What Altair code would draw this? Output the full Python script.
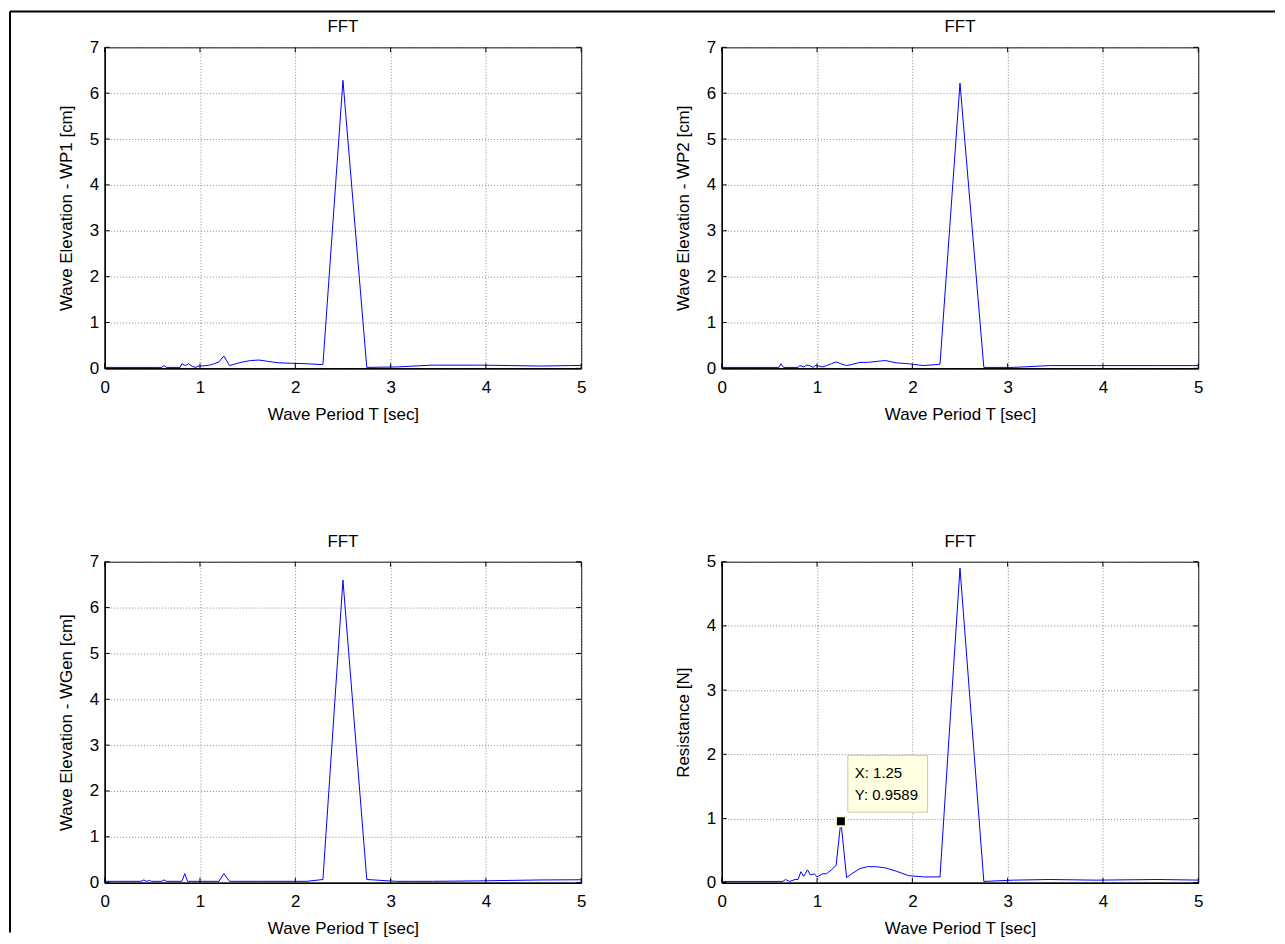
import altair as alt
import pandas as pd

# ---------------- data ----------------
PANEL_TITLE = "FFT"
X_TITLE = "Wave Period T [sec]"
X_TICKS = [0, 1, 2, 3, 4, 5]

# WP1
T1 = [0.0, 0.55, 0.6, 0.62, 0.65, 0.79, 0.81, 0.85, 0.88, 0.92, 0.96, 0.98, 1.02, 1.06,
      1.1, 1.15, 1.2, 1.25, 1.31, 1.375, 1.45, 1.53, 1.62, 1.72, 1.83, 1.96, 2.12, 2.29,
      2.5, 2.75, 3.06, 3.44, 3.93, 4.58, 5.5]
A1 = [0.02, 0.02, 0.02, 0.06, 0.02, 0.02, 0.1, 0.06, 0.1, 0.04, 0.02, 0.05, 0.05, 0.06,
      0.07, 0.1, 0.14, 0.27, 0.06, 0.1, 0.14, 0.17, 0.18, 0.15, 0.12, 0.11, 0.1, 0.08,
      6.28, 0.02, 0.03, 0.07, 0.07, 0.05, 0.08]

# WP2
T2 = [0.0, 0.6, 0.62, 0.65, 0.8, 0.82, 0.86, 0.89, 0.92, 0.96, 0.98, 1.02, 1.06, 1.1,
      1.15, 1.2, 1.25, 1.31, 1.375, 1.45, 1.53, 1.62, 1.72, 1.83, 1.96, 2.12, 2.29, 2.5,
      2.75, 3.06, 3.44, 3.93, 4.58, 5.5]
A2 = [0.02, 0.02, 0.1, 0.02, 0.02, 0.06, 0.03, 0.07, 0.06, 0.02, 0.06, 0.05, 0.03, 0.06,
      0.1, 0.14, 0.1, 0.06, 0.09, 0.13, 0.13, 0.15, 0.17, 0.12, 0.1, 0.06, 0.09, 6.22,
      0.02, 0.02, 0.06, 0.06, 0.06, 0.06]

# WGen
T3 = [0.0, 0.38, 0.41, 0.44, 0.47, 0.49, 0.52, 0.6, 0.62, 0.65, 0.81, 0.84, 0.87, 1.2,
      1.25, 1.31, 2.12, 2.29, 2.5, 2.75, 3.06, 3.44, 3.93, 4.58, 5.5]
A3 = [0.03, 0.03, 0.06, 0.03, 0.05, 0.03, 0.03, 0.03, 0.06, 0.03, 0.03, 0.2, 0.03, 0.03,
      0.2, 0.03, 0.03, 0.07, 6.6, 0.07, 0.03, 0.03, 0.04, 0.06, 0.07]

# Resistance
T4 = [0.0, 0.6, 0.64, 0.67, 0.71, 0.77, 0.8, 0.83, 0.86, 0.9, 0.93, 0.97, 1.0, 1.06,
      1.1, 1.15, 1.2, 1.25, 1.31, 1.375, 1.45, 1.53, 1.62, 1.72, 1.83, 1.96, 2.12, 2.29,
      2.5, 2.75, 3.06, 3.44, 3.93, 4.58, 5.5]
A4 = [0.02, 0.02, 0.02, 0.05, 0.02, 0.05, 0.05, 0.17, 0.1, 0.2, 0.12, 0.14, 0.09, 0.14,
      0.14, 0.2, 0.27, 0.9589, 0.08, 0.15, 0.22, 0.25, 0.25, 0.23, 0.18, 0.11, 0.09, 0.09,
      4.9, 0.02, 0.04, 0.05, 0.04, 0.05, 0.03]

Y_TITLES = ["Wave Elevation - WP1 [cm]", "Wave Elevation - WP2 [cm]",
            "Wave Elevation - WGen [cm]", "Resistance [N]"]
Y_MAX = [7, 7, 7, 5]

TIP_X = [1.25]
TIP_Y = [0.9589]
TIP_TEXT = ["X: 1.25", "Y: 0.9589"]

FONT = "Liberation Sans"
W, H = 478, 322
TICK_LEN = 5


def panel(T, A, ymax, ytitle, tip=False, border=False):
    df = pd.DataFrame({"T": T, "A": A})
    x = alt.X("T:Q", scale=alt.Scale(domain=[0, 5], nice=False, zero=False),
              axis=alt.Axis(values=X_TICKS, title=X_TITLE, format="d"))
    y = alt.Y("A:Q", scale=alt.Scale(domain=[0, ymax], nice=False),
              axis=alt.Axis(values=list(range(ymax + 1)), title=ytitle, format="d"))
    layers = [alt.Chart(df).mark_line(color="#0000FF", strokeWidth=1, clip=True)
              .encode(x=x, y=y)]

    # inward tick marks on all four sides (MATLAB style)
    xt = pd.DataFrame({"T": X_TICKS})
    yt = pd.DataFrame({"A": list(range(ymax + 1))})
    for y0, y1 in [(H, H - TICK_LEN), (0, TICK_LEN)]:
        layers.append(alt.Chart(xt).mark_rule(color="black", strokeWidth=1)
                      .encode(x="T:Q", y=alt.value(y0), y2=alt.value(y1)))
    for x0, x1 in [(0, TICK_LEN), (W, W - TICK_LEN)]:
        layers.append(alt.Chart(yt).mark_rule(color="black", strokeWidth=1)
                      .encode(y="A:Q", x=alt.value(x0), x2=alt.value(x1)))

    # panel title "FFT" drawn as text above the plot area
    tt = pd.DataFrame({"t": [PANEL_TITLE]})
    layers.append(
        alt.Chart(tt).mark_text(align="center", baseline="alphabetic", font=FONT,
                                fontSize=17, color="black", clip=False)
        .encode(x=alt.value(W / 2), y=alt.value(-15), text="t:N"))
    if tip:
        tdf = pd.DataFrame({"T": TIP_X, "A": TIP_Y})
        layers.append(
            alt.Chart(tdf).mark_rect(fill="#FFFFE1", stroke="#C9C9B0", strokeWidth=1,
                                     xOffset=7, x2Offset=87, yOffset=-66, y2Offset=-9)
            .encode(x="T:Q", x2="T", y="A:Q", y2="A"))
        layers.append(
            alt.Chart(tdf).mark_square(size=100, color="black", opacity=1,
                                       stroke="#FFFFE1", strokeWidth=2)
            .encode(x="T:Q", y="A:Q"))
        for i, dy in enumerate([-43, -21]):
            ldf = pd.DataFrame({"T": TIP_X, "A": TIP_Y, "label": [TIP_TEXT[i]]})
            layers.append(
                alt.Chart(ldf).mark_text(align="left", baseline="alphabetic", dx=14, dy=dy,
                                         font=FONT, fontSize=15, color="black")
                .encode(x="T:Q", y="A:Q", text="label:N"))
    if border:
        bdf = pd.DataFrame({"k": [0]})
        layers.append(
            alt.Chart(bdf).mark_rule(color="black", strokeWidth=2, clip=False)
            .encode(x=alt.value(-95), x2=alt.value(1174), y=alt.value(-36)))
        layers.append(
            alt.Chart(bdf).mark_rule(color="black", strokeWidth=2, clip=False)
            .encode(x=alt.value(-95), y=alt.value(-36), y2=alt.value(888)))
    return alt.layer(*layers).properties(width=W, height=H)


p1 = panel(T1, A1, Y_MAX[0], Y_TITLES[0], border=True)
p2 = panel(T2, A2, Y_MAX[1], Y_TITLES[1])
p3 = panel(T3, A3, Y_MAX[2], Y_TITLES[2])
p4 = panel(T4, A4, Y_MAX[3], Y_TITLES[3], tip=True)

chart = (
    alt.concat(p1, p2, p3, p4, columns=2,
               spacing=alt.RowColnumber(row=194, column=141), bounds="flush")
    .properties(padding=0, background="white")
    .configure_view(stroke="black", strokeWidth=1)
    .configure_axis(
        labelFont=FONT, labelFontSize=17, labelColor="black",
        titleFont=FONT, titleFontSize=17, titleFontWeight="normal", titleColor="black",
        grid=True, gridColor="#888888", gridDash=[1, 2], gridWidth=1,
        ticks=False, domain=True, domainColor="black", domainWidth=1.5,
        labelFlush=False,
    )
    .configure_axisX(labelPadding=11, titlePadding=11)
    .configure_axisY(labelPadding=6, titlePadding=14)
)

chart.save("out.html", embed_options={"renderer": "svg", "actions": False})
